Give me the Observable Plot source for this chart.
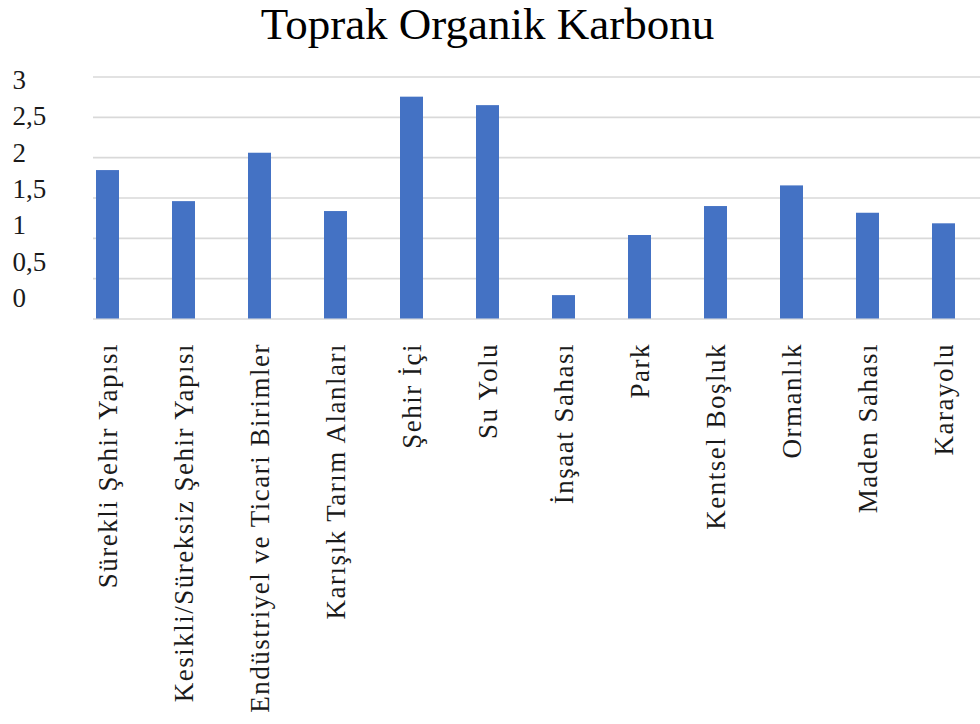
<!DOCTYPE html>
<html>
<head>
<meta charset="utf-8">
<script src="https://cdn.jsdelivr.net/npm/d3@7"></script>
<script src="https://cdn.jsdelivr.net/npm/@observablehq/plot@0.6"></script>
<style>
  html, body { margin: 0; padding: 0; background: #fff; }
  #wrap { position: relative; width: 980px; height: 724px; overflow: hidden; }
  #title { position: absolute; left: 0; top: 0; width: 975px; text-align: center;
           font-family: "Liberation Serif", "Times New Roman", serif; font-size: 45px; line-height: 48px; color: #000; }
  #chart { position: absolute; left: 0; top: 0; }
</style>
</head>
<body>
<div id="wrap">
  <div id="chart"></div>
  <div id="title">Toprak Organik Karbonu</div>
</div>
<script>
const categories = [
  "Sürekli Şehir Yapısı",
  "Kesikli/Süreksiz Şehir Yapısı",
  "Endüstriyel ve Ticari Birimler",
  "Karışık Tarım Alanları",
  "Şehir İçi",
  "Su Yolu",
  "İnşaat Sahası",
  "Park",
  "Kentsel Boşluk",
  "Ormanlık",
  "Maden Sahası",
  "Karayolu"
];
const values = [1.84, 1.455, 2.055, 1.332, 2.75, 2.645, 0.29, 1.035, 1.394, 1.65, 1.311, 1.18];
const yTicks = [0, 0.5, 1, 1.5, 2, 2.5, 3];
const yTickLabels = ["0", "0,5", "1", "1,5", "2", "2,5", "3"];

const data = categories.map((c, i) => ({cat: c, val: values[i]}));
const labelData = yTicks.map((t, i) => ({t, label: yTickLabels[i]}));

const chart = Plot.plot({
  width: 980,
  height: 724,
  marginTop: 76.5,
  marginBottom: 405.5,
  marginLeft: 69,
  marginRight: -3,
  style: {fontFamily: "Liberation Serif", background: "transparent", overflow: "visible"},
  x: {domain: categories, paddingInner: 0.693, paddingOuter: 0.3465, align: 0.5, label: null},
  y: {domain: [0, 3], label: null, axis: null},
  marks: [
    Plot.ruleY(yTicks, {stroke: "#d9d9d9", strokeWidth: 1.6, insetLeft: 24, insetRight: 3}),
    Plot.barY(data, {x: "cat", y: "val", fill: "#4472C4"}),
    Plot.axisX({tickSize: 0, tickPadding: 24, tickRotate: -90, fontSize: 27, fill: "#1a1a1a", label: null}),
    Plot.text(labelData, {
      y: d => 0.254 + 0.901 * d.t,
      text: "label",
      frameAnchor: "left",
      dx: -57,
      textAnchor: "start",
      fontSize: 27,
      fill: "#1a1a1a"
    })
  ]
});
d3.select(chart).selectAll("g[aria-label='x-axis tick label'] text").style("letter-spacing", "1.5px");
document.getElementById("chart").appendChild(chart);
</script>
</body>
</html>
